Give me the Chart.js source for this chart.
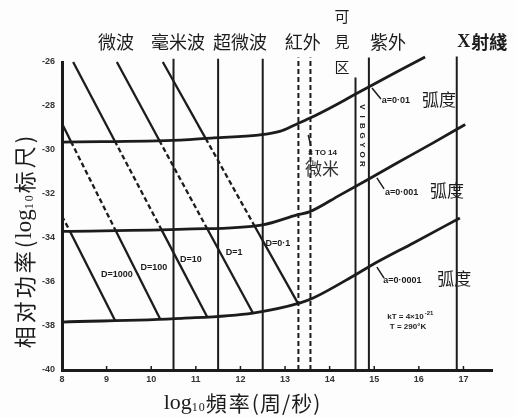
<!DOCTYPE html>
<html>
<head>
<meta charset="utf-8">
<script src="https://cdn.jsdelivr.net/npm/chart.js@4.4.1/dist/chart.umd.min.js"></script>
<style>
  body { margin: 0; background: #fdfdfd; }
</style>
</head>
<body>
<canvas id="myChart" width="516" height="418"></canvas>
<script>
// axis ticks
const xTicks = [8, 9, 10, 11, 12, 13, 14, 15, 16, 17];
const yTicks = [-40, -38, -36, -34, -32, -30, -28, -26];

// a = 0.01 rad curve (log10 freq, log10 power)
const freqA2 = [8, 10.65, 11.4, 12.4, 12.9, 13.22, 13.56, 14.0, 14.5, 15.0, 15.5, 16.14];
const powA2 = [-29.64, -29.55, -29.45, -29.32, -29.14, -28.86, -28.55, -28.1, -27.55, -27.0, -26.45, -25.77];
// a = 0.001 rad
const freqA3 = [8, 10.76, 12.5, 13.27, 13.56, 14.23, 14.84, 15.5, 16.3, 17.04];
const powA3 = [-33.7, -33.6, -33.4, -32.95, -32.8, -32.05, -31.36, -30.6, -29.7, -28.84];
// a = 0.0001 rad
const freqA4 = [8, 10.69, 12.28, 13.34, 13.63, 14.57, 14.91, 15.9, 16.92];
const powA4 = [-37.82, -37.65, -37.41, -36.95, -36.73, -35.68, -35.27, -34.2, -33.09];

// aperture lines D (start, crossings of the curves, end)
const freqD1000 = [8, 8.18, 9.19];
const powD1000 = [-33.0, -33.7, -37.75];
const freqD100 = [8, 8.2, 9.2, 10.2];
const powD100 = [-28.8, -29.61, -33.65, -37.68];
const freqD10 = [8.25, 9.18, 10.23, 11.25];
const powD10 = [-26, -29.58, -33.62, -37.57];
const freqD1 = [9.23, 10.18, 11.25, 12.28];
const powD1 = [-26, -29.56, -33.56, -37.41];
const freqD01 = [10.26, 11.22, 12.31, 13.29];
const powD01 = [-26, -29.47, -33.43, -36.97];

// band boundaries
const bandEdges = [10.5, 11.5, 12.5, 14.58, 14.88, 16.85];
const bandTops = [-25.85, -25.85, -25.85, -26.7, -25.8, -25.75];
const windowEdges = [13.3, 13.57]; // 8 to 14 micron
const windowTops = [-25.8, -25.8];

const ink = "#1c1c1c";
const cjk = '"Noto Sans CJK SC", sans-serif';
const serif = '"Liberation Serif", "DejaVu Serif", serif';
const sans = '"Liberation Sans", "DejaVu Sans", sans-serif';

function pts(xs, ys) {
  return xs.map(function(x, i) { return { x: x, y: ys[i] }; });
}

function curve(xs, ys) {
  return {
    data: pts(xs, ys),
    borderColor: ink,
    borderWidth: 2.8,
    cubicInterpolationMode: "monotone",
    pointRadius: 0,
    clip: false
  };
}

function dLine(xs, ys, dashIdx) {
  return {
    data: pts(xs, ys),
    borderColor: ink,
    borderWidth: 2.3,
    pointRadius: 0,
    clip: false,
    segment: {
      borderDash: ctx => (ctx.p0DataIndex === dashIdx ? [5, 3] : undefined)
    }
  };
}

function vLine(x, top, dashed) {
  return {
    data: [{ x: x, y: -40 }, { x: x, y: top }],
    borderColor: ink,
    borderWidth: 2,
    borderDash: dashed ? [5, 3] : [],
    pointRadius: 0,
    clip: false
  };
}

let datasets = [
  curve(freqA2, powA2),
  curve(freqA3, powA3),
  curve(freqA4, powA4),
  dLine(freqD1000, powD1000, 0),
  dLine(freqD100, powD100, 1),
  dLine(freqD10, powD10, 1),
  dLine(freqD1, powD1, 1),
  dLine(freqD01, powD01, 1)
];
bandEdges.forEach((x, i) => datasets.push(vLine(x, bandTops[i], false)));
windowEdges.forEach((x, i) => datasets.push(vLine(x, windowTops[i], true)));

// text run helpers
function partsWidth(ctx, parts) {
  let w = 0;
  parts.forEach(p => {
    ctx.font = p.f;
    for (const ch of p.t) w += ctx.measureText(ch).width + (p.sp || 0);
  });
  return w;
}
function drawParts(ctx, parts, x, y) {
  let cx = x;
  parts.forEach(p => {
    ctx.font = p.f;
    for (const ch of p.t) {
      ctx.fillText(ch, cx, y + (p.dy || 0));
      cx += ctx.measureText(ch).width + (p.sp || 0);
    }
  });
}

const bandLabels = [
  { t: "微波", x: 9.21 },
  { t: "毫米波", x: 10.6 },
  { t: "超微波", x: 11.99 },
  { t: "紅外", x: 13.4 },
  { t: "紫外", x: 15.31 }
];
const dLabels = [
  { t: "D=1000", x: 9.23, y: -35.68 },
  { t: "D=100", x: 10.06, y: -35.32 },
  { t: "D=10", x: 10.89, y: -35.0 },
  { t: "D=1", x: 11.86, y: -34.64 },
  { t: "D=0·1", x: 12.84, y: -34.23 }
];
const aLabels = [
  { t: "a=0·01", x: 15.17, y: -27.73, hx: 16.07, lx: [14.95, 15.15], ly: [-27.18, -27.68] },
  { t: "a=0·001", x: 15.24, y: -31.91, hx: 16.25, lx: [15.06, 15.22], ly: [-31.27, -31.77] },
  { t: "a=0·0001", x: 15.2, y: -35.91, hx: 16.41, lx: [15.06, 15.22], ly: [-35.32, -35.82] }
];

const notes = {
  id: "notes",
  beforeDraw(chart) {
    const ctx = chart.ctx;
    ctx.save();
    ctx.fillStyle = "#fdfdfd";
    ctx.fillRect(0, 0, chart.width, chart.height);
    ctx.restore();
  },
  afterDraw(chart) {
    const ctx = chart.ctx;
    const sx = chart.scales.x, sy = chart.scales.y;
    const px = v => sx.getPixelForValue(v);
    const py = v => sy.getPixelForValue(v);
    ctx.save();
    ctx.fillStyle = ink;
    ctx.strokeStyle = ink;
    ctx.textBaseline = "middle";

    // small inward ticks on the frequency axis
    ctx.lineWidth = 1.5;
    xTicks.slice(1).forEach(v => {
      ctx.beginPath();
      ctx.moveTo(px(v), py(-40));
      ctx.lineTo(px(v), py(-40) - 4);
      ctx.stroke();
    });

    // band names above the plot
    ctx.textAlign = "center";
    ctx.font = "18px " + cjk;
    bandLabels.forEach(b => ctx.fillText(b.t, px(b.x), 42));
    ctx.font = "15px " + cjk;
    ["可", "見", "区"].forEach((c, i) => ctx.fillText(c, px(14.28), 16 + i * 25.5));
    // X-ray
    ctx.textAlign = "left";
    const xr = [{ t: "X", f: "bold 18px " + serif, sp: 1 }, { t: "射綫", f: "bold 18px " + cjk }];
    drawParts(ctx, xr, px(17.42) - partsWidth(ctx, xr) / 2, 42);

    // D labels
    ctx.textAlign = "center";
    ctx.font = "bold 9px " + sans;
    dLabels.forEach(d => ctx.fillText(d.t, px(d.x), py(d.y)));

    // a labels with leaders
    ctx.lineWidth = 1.5;
    aLabels.forEach(a => {
      ctx.beginPath();
      ctx.moveTo(px(a.lx[0]), py(a.ly[0]));
      ctx.lineTo(px(a.lx[1]), py(a.ly[1]));
      ctx.stroke();
      ctx.textAlign = "left";
      ctx.font = "bold 9px " + sans;
      ctx.fillText(a.t, px(a.x), py(a.y));
      ctx.font = "17px " + cjk;
      ctx.fillText("弧度", px(a.hx), py(a.y) - 1);
    });

    // 8 to 14 micron window
    ctx.beginPath();
    ctx.moveTo(px(13.52), py(-29.32));
    ctx.lineTo(px(13.58), py(-29.82));
    ctx.stroke();
    ctx.font = "bold 8px " + sans;
    ctx.fillText("8 TO 14", px(13.52), py(-30.14));
    ctx.fillStyle = "#333";
    ctx.font = "17px " + cjk;
    ctx.fillText("微米", px(13.45), py(-30.85));
    ctx.fillStyle = ink;

    // visible spectrum letters
    ctx.save();
    ctx.translate(px(14.73), 104);
    ctx.rotate(Math.PI / 2);
    ctx.font = "bold 8px " + sans;
    ctx.textAlign = "center";
    "VIBGYOR".split("").forEach((c, i) => ctx.fillText(c, i * 9.5 + 3, 0));
    ctx.restore();

    // kT note
    ctx.textAlign = "left";
    ctx.font = "bold 8px " + sans;
    const kx = px(15.29), ky = py(-37.59);
    ctx.fillText("kT = 4×10", kx, ky);
    const kw = ctx.measureText("kT = 4×10").width;
    ctx.font = "bold 6px " + sans;
    ctx.fillText("-21", kx + kw + 1, ky - 4);
    ctx.font = "bold 8px " + sans;
    ctx.fillText("T = 290°K", px(15.35), py(-38.05));

    // axis titles
    const xt = [
      { t: "log", f: "22px " + serif },
      { t: "10", f: "12px " + serif, dy: 5, sp: 1 },
      { t: "頻率", f: "21px " + cjk, sp: 2 },
      { t: "(", f: "21px " + cjk, sp: 1 },
      { t: "周", f: "21px " + cjk, sp: 1 },
      { t: "/", f: "21px " + cjk, sp: 1 },
      { t: "秒", f: "21px " + cjk, sp: 1 },
      { t: ")", f: "21px " + cjk }
    ];
    drawParts(ctx, xt, 242 - partsWidth(ctx, xt) / 2, 403);

    const yt = [
      { t: "相对功率", f: "22px " + cjk, sp: 3 },
      { t: "(", f: "22px " + cjk, sp: 2 },
      { t: "log", f: "23px " + serif },
      { t: "10", f: "12px " + serif, dy: 5, sp: 2 },
      { t: "标尺", f: "22px " + cjk, sp: 3 },
      { t: ")", f: "22px " + cjk }
    ];
    ctx.translate(25, 242);
    ctx.rotate(-Math.PI / 2);
    drawParts(ctx, yt, -partsWidth(ctx, yt) / 2, 0);
    ctx.restore();
  }
};

const chart = new Chart(document.getElementById("myChart"), {
  type: "line",
  data: { datasets: datasets },
  options: {
    responsive: false,
    animation: false,
    layout: { padding: { top: 62, right: 24, left: 0, bottom: 0 } },
    plugins: { legend: { display: false }, tooltip: { enabled: false } },
    scales: {
      x: {
        type: "linear",
        min: 8,
        max: 17.64,
        afterBuildTicks: scale => { scale.ticks = xTicks.map(v => ({ value: v })); },
        afterFit: scale => { scale.height = 48; },
        grid: { display: false, drawTicks: false },
        border: { display: true, width: 3, color: ink },
        ticks: { padding: 4, color: "#333", font: { family: sans, size: 9, weight: "bold" } }
      },
      y: {
        type: "linear",
        min: -40,
        max: -26,
        afterBuildTicks: scale => { scale.ticks = yTicks.map(v => ({ value: v })); },
        afterFit: scale => { scale.width = 62; },
        grid: { display: false, drawTicks: false },
        border: { display: true, width: 3, color: ink },
        ticks: { padding: 7, color: "#333", font: { family: sans, size: 9, weight: "bold" } }
      }
    }
  },
  plugins: [notes]
});
</script>
</body>
</html>
